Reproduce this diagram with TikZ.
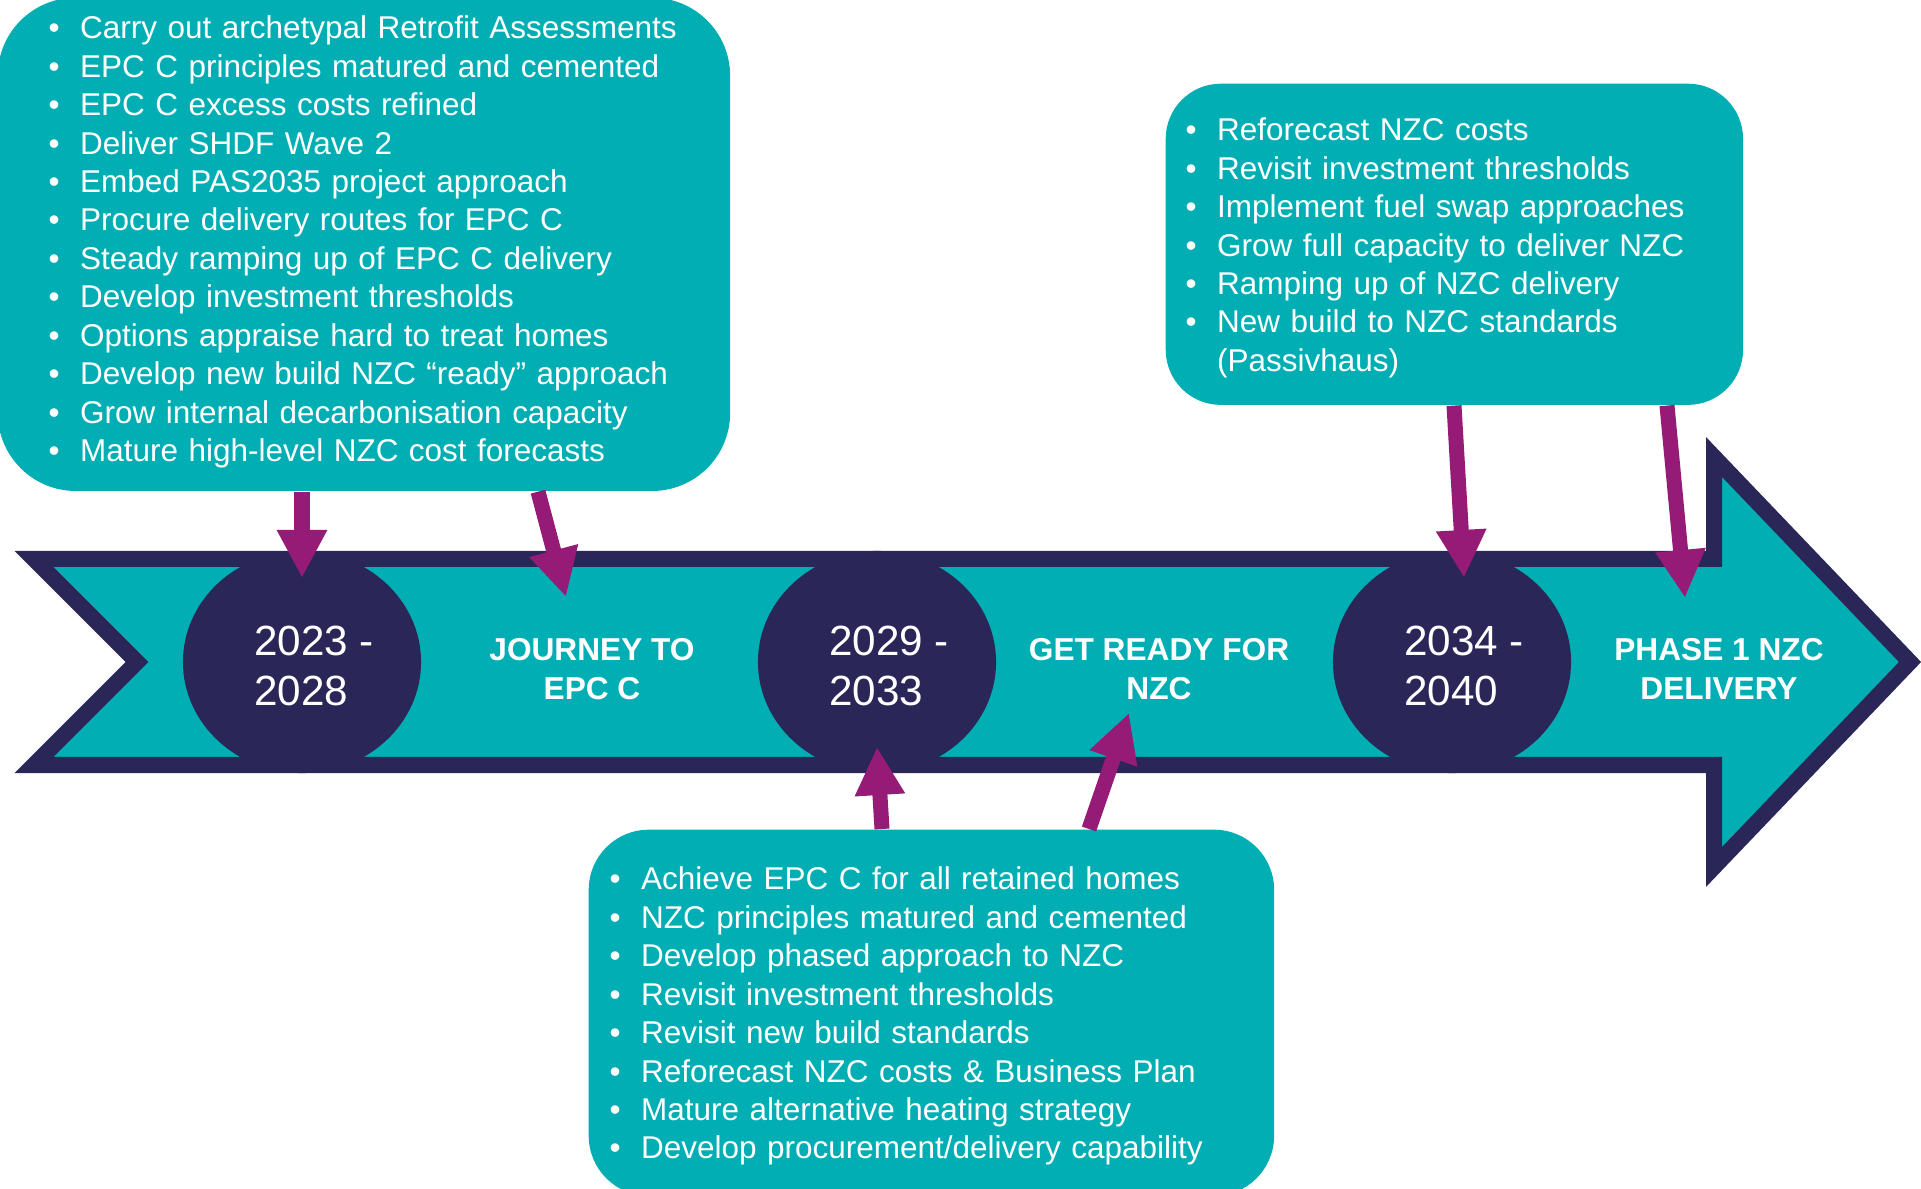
\documentclass[tikz,border=0pt]{standalone}
\usepackage{fontspec}
\setmainfont{Liberation Sans}
\usetikzlibrary{arrows.meta}
\usetikzlibrary{calc}
\usetikzlibrary{shapes.geometric}

\definecolor{bandteal}{HTML}{00AEB3}
\definecolor{bandnavy}{HTML}{2A2658}
\definecolor{pointerpurple}{HTML}{951B76}

\newcommand{\bitem}[1]{\makebox[0.315cm][l]{\textbullet}#1}

\begin{document}
\begin{tikzpicture}[x=0.01cm,y=-0.01cm,
    band/.style={fill=bandteal,draw=bandnavy,line width=0.16cm,miter limit=10},
    yearball/.style={ellipse,fill=bandnavy,minimum width=2.38cm,minimum height=2.22cm,inner sep=0},
    yeartext/.style={text=white,align=left,inner sep=0,font=\fontsize{12}{14.2}\selectfont},
    phase/.style={text=white,align=center,inner sep=0,font=\bfseries\fontsize{9}{11.1}\selectfont},
    callout/.style={fill=bandteal,inner sep=0,anchor=north west},
    listtext/.style={text=white,anchor=base west,inner sep=0,align=left,font=\fontsize{8.95}{10.92}\selectfont},
    pointer/.style={draw=pointerpurple,line width=0.15cm,-{Triangle[width=0.47cm,length=0.48cm]}}]

        \useasboundingbox (0,0) rectangle (1921,1189);

        % Band with notched tail and arrow head
        \draw[band] (34,559) -- (1714,559) -- (1714,457) -- (1910,662) -- (1714,867)
              -- (1714,765) -- (34,765) -- (137,662) -- cycle;

        % Year ellipses
        \foreach \n/\x/\yrs in {1/302/{2023 -\\2028}, 2/877/{2029 -\\2033}, 3/1452/{2034 -\\2040}}
        {
          \node[yearball] (y\n) at (\x,662) {};
          \node[yeartext] (yt\n) at ($(y\n)+(12,4)$) {\yrs};
        }

        % Phase labels
        \node[phase] (p1) at (592,669) {JOURNEY TO\\EPC C};
        \node[phase] (p2) at (1159,669) {GET READY FOR\\NZC};
        \node[phase] (p3) at (1719,669) {PHASE 1 NZC\\DELIVERY};

        % Callouts
        \node[callout,rounded corners=0.78cm,minimum width=7.32cm,minimum height=4.93cm] (box1) at (-3,-3) {};
        \node[callout,rounded corners=0.55cm,minimum width=5.77cm,minimum height=3.21cm] (box2) at (1165,83) {};
        \node[callout,rounded corners=0.6cm,minimum width=6.85cm,minimum height=3.66cm] (box3) at (588,829) {};

        \node[listtext,text width=6.8cm] (l1) at (48,39) {%
          \bitem{Carry out archetypal Retrofit Assessments}\\
          \bitem{EPC C principles matured and cemented}\\
          \bitem{EPC C excess costs refined}\\
          \bitem{Deliver SHDF Wave 2}\\
          \bitem{Embed PAS2035 project approach}\\
          \bitem{Procure delivery routes for EPC C}\\
          \bitem{Steady ramping up of EPC C delivery}\\
          \bitem{Develop investment thresholds}\\
          \bitem{Options appraise hard to treat homes}\\
          \bitem{Develop new build NZC “ready” approach}\\
          \bitem{Grow internal decarbonisation capacity}\\
          \bitem{Mature high-level NZC cost forecasts}};

        \node[listtext,text width=5.4cm] (l2) at (1185,141) {%
          \bitem{Reforecast NZC costs}\\
          \bitem{Revisit investment thresholds}\\
          \bitem{Implement fuel swap approaches}\\
          \bitem{Grow full capacity to deliver NZC}\\
          \bitem{Ramping up of NZC delivery}\\
          \bitem{New build to NZC standards}\\
          \hspace*{0.315cm}(Passivhaus)};

        \node[listtext,text width=6.5cm] (l3) at (609,890) {%
          \bitem{Achieve EPC C for all retained homes}\\
          \bitem{NZC principles matured and cemented}\\
          \bitem{Develop phased approach to NZC}\\
          \bitem{Revisit investment thresholds}\\
          \bitem{Revisit new build standards}\\
          \bitem{Reforecast NZC costs \& Business Plan}\\
          \bitem{Mature alternative heating strategy}\\
          \bitem{Develop procurement/delivery capability}};

        % Pointer tips
        \coordinate (t1) at (302,578);
        \coordinate (t2) at (566,597);
        \coordinate (t3) at (877,747);
        \coordinate (t4) at (1129,713);
        \coordinate (t5) at (1464,578);
        \coordinate (t6) at (1685,598);

        % Pointers
        \draw[pointer] (box1.south -| y1) -- (t1);
        \draw[pointer] ($(box1.south west)+(541,0)$) -- (t2);
        \draw[pointer] ($(box3.north west)+(294,0)$) -- (t3);
        \draw[pointer] ($(box3.north west)+(501,0)$) -- (t4);
        \draw[pointer] ($(box2.south west)+(289,0)$) -- (t5);
        \draw[pointer] ($(box2.south west)+(502,0)$) -- (t6);

    \end{tikzpicture}
\end{document}
